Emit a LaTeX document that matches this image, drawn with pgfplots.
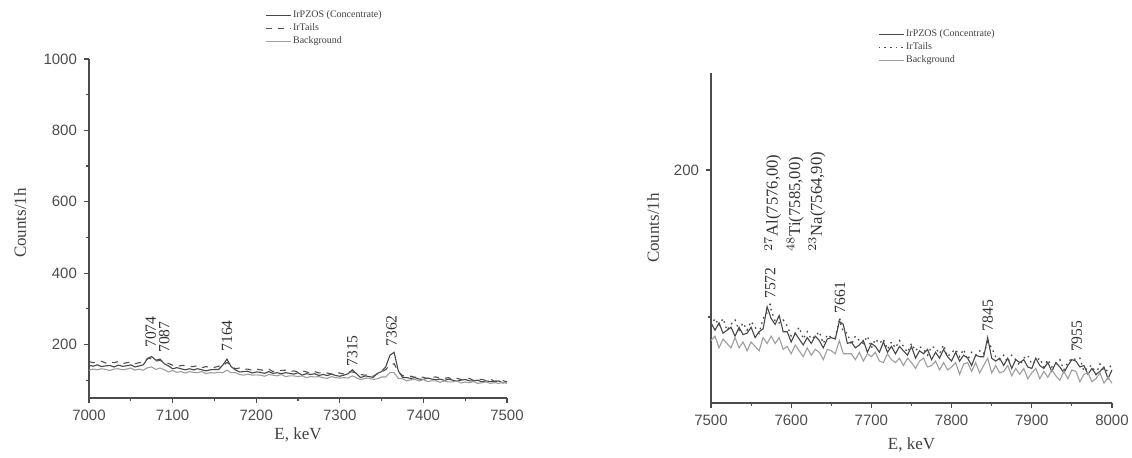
\documentclass[border=0pt]{standalone}
\usepackage{fontspec}
\setmainfont{Liberation Serif}
\setsansfont{Liberation Sans}
\usepackage{pgfplots}
\usepackage{pgfplotstable}
\pgfplotsset{compat=1.18}

\pgfplotstableread{
E C T B
7000 142 152 128
7005 139 149 131
7010 143 150 129
7015 138 153 132
7020 140 148 130
7025 141 151 127
7030 137 149 131
7035 142 152 132
7040 139 146 129
7045 140 149 131
7050 143 151 134
7055 137 146 128
7060 140 149 131
7065 143 149 128
7070 161 160 135
7075 166 161 137
7080 156 153 130
7085 159 156 134
7090 146 149 129
7095 140 147 123
7100 132 142 127
7105 135 138 122
7110 132 141 124
7115 129 141 120
7120 132 138 124
7125 129 138 122
7130 132 141 121
7135 129 135 124
7140 126 138 118
7145 129 135 121
7150 130 136 120
7155 130 139 122
7160 142 139 121
7165 159 150 128
7170 138 141 121
7175 129 132 121
7180 123 134 116
7185 124 130 114
7190 125 131 117
7195 120 128 114
7200 123 131 115
7205 122 129 114
7210 119 127 111
7215 124 131 116
7220 119 124 114
7225 121 128 112
7230 118 127 116
7235 121 128 110
7240 119 124 112
7245 117 126 112
7250 121 123 110
7255 114 126 112
7260 118 123 107
7265 116 120 110
7270 118 124 109
7275 113 120 110
7280 116 122 107
7285 113 120 105
7290 117 117 110
7295 113 121 107
7300 111 120 106
7305 114 117 107
7310 118 124 106
7315 129 123 112
7320 118 120 107
7325 107 116 101
7330 112 114 105
7335 110 116 106
7340 108 111 102
7345 119 118 104
7350 124 122 109
7355 138 130 109
7360 170 142 121
7365 178 146 121
7370 126 123 105
7375 108 113 104
7380 107 110 98
7385 105 111 101
7390 107 108 102
7395 103 110 98
7400 102 108 102
7405 106 104 96
7410 103 108 98
7415 101 109 98
7420 103 105 94
7425 99 105 98
7430 103 107 95
7435 100 102 95
7440 97 105 98
7445 100 102 92
7450 102 103 95
7455 98 105 93
7460 98 99 96
7465 100 102 91
7470 95 102 93
7475 98 99 95
7480 96 103 91
7485 96 97 93
7490 98 99 91
7495 92 99 94
7500 96 95 91
}\leftdata

\pgfplotstableread{
E C T B
7500 96 94 84
7505 91 99 87
7510 96 94 79
7515 89 99 85
7520 91 91 82
7525 93 95 79
7530 87 98 86
7535 93 91 79
7540 88 96 83
7545 89 91 77
7550 93 97 83
7555 86 93 80
7560 90 89 77
7565 92 99 86
7570 107 103 82
7575 99 105 87
7580 95 97 82
7585 101 96 86
7590 90 98 78
7595 90 94 80
7600 83 87 75
7605 89 89 81
7610 85 93 77
7615 81 85 73
7620 86 90 79
7625 82 85 74
7630 87 87 78
7635 84 90 76
7640 79 82 71
7645 85 88 78
7650 86 86 77
7655 85 86 75
7660 97 98 84
7665 95 90 75
7670 82 89 75
7675 83 81 75
7680 79 87 71
7685 81 84 76
7690 84 82 70
7695 76 87 75
7700 82 79 73
7705 80 85 76
7710 76 82 70
7715 83 85 69
7720 76 78 75
7725 80 83 71
7730 75 79 69
7735 80 84 72
7740 77 80 67
7745 74 76 72
7750 80 82 69
7755 72 77 65
7760 77 80 70
7765 75 78 72
7770 78 74 66
7775 71 80 67
7780 76 79 70
7785 72 75 64
7790 78 81 69
7795 73 73 64
7800 70 76 66
7805 76 78 69
7810 70 73 61
7815 74 78 68
7820 72 71 69
7825 67 76 63
7830 74 74 69
7835 73 77 62
7840 73 75 67
7845 86 83 72
7850 72 79 62
7855 70 73 67
7860 72 71 62
7865 67 74 63
7870 72 69 67
7875 65 74 60
7880 71 71 65
7885 69 67 61
7890 71 72 65
7895 66 74 58
7900 65 68 62
7905 72 70 65
7910 67 72 58
7915 65 66 63
7920 69 71 59
7925 63 66 64
7930 69 68 60
7935 66 71 57
7940 62 64 63
7945 67 69 58
7950 71 72 64
7955 70 71 63
7960 66 72 56
7965 67 63 61
7970 61 66 62
7975 65 67 56
7980 61 61 58
7985 63 68 62
7990 66 63 55
7995 58 64 59
8000 64 68 55
}\rightdata

\tikzset{
  concS/.style={black!72, line width=0.55pt},
  tailS/.style={black!68, line width=0.55pt, dashed},
  tailR/.style={black!70, line width=0.65pt, dash pattern=on 0.8pt off 2pt},
  bgS/.style={black!38, line width=0.55pt},
  pk/.style={rotate=90, anchor=west, inner sep=0pt, font=\fontsize{7.8}{9}\selectfont, text=black!80},
  pkf/.style={rotate=90, anchor=west, inner sep=0pt, font=\fontsize{8.3}{9}\selectfont, text=black!80},
  axlab/.style={font=\fontsize{8.5}{10}\selectfont, text=black!75},
}

\pgfplotsset{
  spec/.style={
    scale only axis,
    axis lines*=left,
    tick align=outside,
    axis line style={black!70, line width=0.8pt},
    major tick length=2.5pt,
    minor tick length=1.5pt,
    every tick/.append style={black!70, line width=0.6pt},
    tick label style={font=\sffamily\fontsize{7.5}{9}\selectfont, text=black!70},
    /pgf/number format/assume math mode=true,
    /pgf/number format/1000 sep={},
    clip=false,
    legend cell align=left,
    legend image code/.code={\draw[##1] (0pt,0pt) -- (12.5pt,0pt);},
  },
}

\begin{document}
\begin{tikzpicture}
\path[use as bounding box] (0,0) rectangle (566pt,228.5pt);

% ---------------- left panel ----------------
\begin{axis}[spec,
  at={(44.5pt,29.5pt)}, anchor=south west,
  width=209pt, height=169.5pt,
  xmin=7000, xmax=7500, ymin=50, ymax=1000,
  xtick={7000,7100,...,7500},
  minor xtick={7050,7150,...,7450},
  ytick={200,400,...,1000},
  minor ytick={100,300,...,900},
  legend style={at={(rel axis cs:0.421,1.15)}, anchor=north west,
    draw=none, fill=none, inner sep=0pt, row sep=0pt,
    font=\fontsize{5}{6}\selectfont, text=black!75,
    nodes={inner sep=0.8pt}},
]
\addplot[concS] table[x=E,y=C] {\leftdata};
\addlegendentry{IrPZOS (Concentrate)}
\addplot[tailS] table[x=E,y=T] {\leftdata};
\addlegendentry{IrTails}
\addplot[bgS] table[x=E,y=B] {\leftdata};
\addlegendentry{Background}

\node[pk] at (axis cs:7074,190) {7074};
\node[pk] at (axis cs:7090,176) {7087};
\node[pk] at (axis cs:7165,179) {7164};
\node[pk] at (axis cs:7315,137) {7315};
\node[pk] at (axis cs:7362,193) {7362};

\node[axlab, yshift=-18.5pt] at (rel axis cs:0.5,0) {E, keV};
\node[axlab, xshift=-34.5pt, yshift=2.75pt, rotate=90] at (rel axis cs:0,0.5) {Counts/1h};
\end{axis}

% ---------------- right panel ----------------
\begin{axis}[spec,
  at={(355.5pt,27pt)}, anchor=south west,
  width=200.5pt, height=165pt,
  xmin=7500, xmax=8000, ymin=41.5, ymax=266,
  xtick={7500,7600,...,8000},
  minor xtick={7550,7650,...,7950},
  ytick={200},
  minor ytick={100},
  legend style={at={(rel axis cs:0.416,1.139)}, anchor=north west,
    draw=none, fill=none, inner sep=0pt, row sep=0pt,
    font=\fontsize{5}{6}\selectfont, text=black!75,
    nodes={inner sep=0.8pt}},
]
\addplot[concS] table[x=E,y=C] {\rightdata};
\addlegendentry{IrPZOS (Concentrate)}
\addplot[tailR] table[x=E,y=T] {\rightdata};
\addlegendentry{IrTails}
\addplot[bgS] table[x=E,y=B] {\rightdata};
\addlegendentry{Background}

\node[pk] at (axis cs:7574,106) {· 7572};
\node[pkf] at (axis cs:7577,144) {$^{27}$Al(7576,00)};
\node[pkf] at (axis cs:7605,144) {$^{48}$Ti(7585,00)};
\node[pkf] at (axis cs:7632,144) {$^{23}$Na(7564,90)};
\node[pk] at (axis cs:7661,96) {· 7661};
\node[pk] at (axis cs:7845,90) {7845};
\node[pk] at (axis cs:7956,76) {7955};

\node[axlab, yshift=-21pt] at (rel axis cs:0.5,0) {E, keV};
\node[axlab, xshift=-29pt, yshift=5pt, rotate=90] at (rel axis cs:0,0.5) {Counts/1h};
\end{axis}
\end{tikzpicture}
\end{document}
